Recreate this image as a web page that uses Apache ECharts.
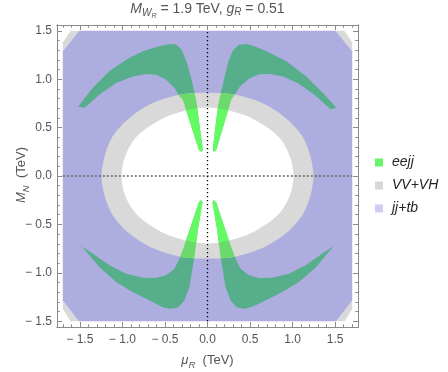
<!DOCTYPE html>
<html><head><meta charset="utf-8">
<script src="https://cdn.jsdelivr.net/npm/echarts@6/dist/echarts.min.js"></script>
<style>html,body{margin:0;padding:0;background:#fff}#c{width:448px;height:372px}</style>
</head><body><div id="c"></div>
<script>
// ---------- axes ----------
const xRange = [-1.768, 1.768];
const yRange = [-1.56, 1.56];
const majorTicks = [-1.5, -1, -0.5, 0, 0.5, 1, 1.5];
const tickLabels = ['\u2212 1.5', '\u2212 1.0', '\u2212 0.5', '0.0', '0.5', '1.0', '1.5'];
const minorTicksX = [-1.7,-1.6,-1.4,-1.3,-1.2,-1.1,-0.9,-0.8,-0.7,-0.6,-0.4,-0.3,-0.2,-0.1,0.1,0.2,0.3,0.4,0.6,0.7,0.8,0.9,1.1,1.2,1.3,1.4,1.6,1.7];
const minorTicksY = [-1.4,-1.3,-1.2,-1.1,-0.9,-0.8,-0.7,-0.6,-0.4,-0.3,-0.2,-0.1,0.1,0.2,0.3,0.4,0.6,0.7,0.8,0.9,1.1,1.2,1.3,1.4];
const domainX = [-1.7, 1.7];
const domainY = [-1.5, 1.5];

// ---------- regions (boundaries) ----------
// jj+tb
const jjtbRegion = [[-1.7,1.289],[-1.506,1.5],[1.506,1.5],[1.7,1.289],[1.7,-1.285],[1.512,-1.5],[-1.512,-1.5],[-1.7,-1.285]];
// VV+VH corners
const vvCornerTL = [[-1.7,1.289],[-1.506,1.5],[-1.608,1.5],[-1.7,1.378]];
const vvCornerTR = [[1.7,1.289],[1.506,1.5],[1.608,1.5],[1.7,1.378]];
const vvCornerBR = [[1.7,-1.285],[1.512,-1.5],[1.61,-1.5],[1.7,-1.375]];
const vvCornerBL = [[-1.7,-1.285],[-1.512,-1.5],[-1.61,-1.5],[-1.7,-1.375]];
// VV+VH ring
const vvOuter = [[1.245,0],[1.21,0.2],[1.114,0.41],[0.918,0.6],[0.644,0.754],[0.33,0.84],[0,0.86],[-0.33,0.84],[-0.644,0.754],[-0.918,0.6],[-1.114,0.41],[-1.21,0.2],[-1.245,0],[-1.21,-0.2],[-1.114,-0.405],[-0.918,-0.595],[-0.644,-0.745],[-0.33,-0.833],[0,-0.853],[0.33,-0.833],[0.644,-0.745],[0.918,-0.595],[1.114,-0.405],[1.21,-0.2]];
const vvInner = [[1.01,0],[0.99,0.14],[0.93,0.28],[0.84,0.4],[0.72,0.49],[0.49,0.61],[0.22,0.685],[0,0.708],[-0.22,0.685],[-0.49,0.61],[-0.72,0.49],[-0.84,0.4],[-0.93,0.28],[-0.99,0.14],[-1.01,0],[-0.99,-0.14],[-0.93,-0.275],[-0.84,-0.39],[-0.72,-0.48],[-0.49,-0.6],[-0.22,-0.675],[0,-0.698],[0.22,-0.675],[0.49,-0.6],[0.72,-0.48],[0.84,-0.39],[0.93,-0.275],[0.99,-0.14]];
// eejj
const eejjUL = [[-1.518,0.718],[-1.349,0.909],[-1.153,1.081],[-0.956,1.202],[-0.761,1.288],[-0.565,1.34],[-0.447,1.365],[-0.368,1.358],[-0.305,1.306],[-0.248,1.185],[-0.192,1.013],[-0.155,0.874],[-0.133,0.788],[-0.094,0.529],[-0.055,0.27],[-0.071,0.249],[-0.102,0.27],[-0.291,0.788],[-0.329,0.822],[-0.388,0.909],[-0.486,0.995],[-0.604,1.047],[-0.721,1.054],[-0.879,1.029],[-1.074,0.961],[-1.271,0.84],[-1.447,0.702]];
const eejjUR = [[1.514,0.705],[1.356,0.857],[1.161,1.029],[0.926,1.185],[0.691,1.288],[0.565,1.335],[0.455,1.365],[0.37,1.355],[0.3,1.3],[0.245,1.185],[0.195,1.0],[0.16,0.87],[0.128,0.75],[0.094,0.52],[0.062,0.27],[0.078,0.249],[0.104,0.27],[0.279,0.788],[0.318,0.84],[0.376,0.92],[0.494,1.01],[0.612,1.05],[0.729,1.055],[0.879,1.03],[1.07,0.955],[1.27,0.83],[1.445,0.69]];
const eejjLL = [[-1.518,-0.705],[-1.467,-0.738],[-1.271,-0.94],[-1.074,-1.096],[-0.879,-1.199],[-0.682,-1.285],[-0.526,-1.355],[-0.447,-1.371],[-0.349,-1.361],[-0.271,-1.285],[-0.212,-1.148],[-0.18,-0.974],[-0.153,-0.837],[-0.133,-0.698],[-0.114,-0.56],[-0.058,-0.27],[-0.074,-0.249],[-0.102,-0.27],[-0.212,-0.56],[-0.271,-0.715],[-0.329,-0.853],[-0.388,-0.957],[-0.486,-1.026],[-0.604,-1.054],[-0.761,-1.05],[-0.956,-1.009],[-1.153,-0.923],[-1.349,-0.801]];
const eejjLR = [[1.518,-0.705],[1.467,-0.738],[1.271,-0.945],[1.074,-1.096],[0.879,-1.199],[0.682,-1.285],[0.526,-1.352],[0.44,-1.371],[0.349,-1.36],[0.271,-1.285],[0.212,-1.148],[0.18,-0.974],[0.153,-0.837],[0.133,-0.698],[0.114,-0.56],[0.058,-0.27],[0.074,-0.249],[0.102,-0.27],[0.212,-0.56],[0.271,-0.715],[0.329,-0.853],[0.388,-0.957],[0.486,-1.026],[0.604,-1.054],[0.761,-1.05],[0.956,-1.009],[1.153,-0.923],[1.349,-0.801]];

// ---------- style ----------
const FF = "'Liberation Sans', Arial, sans-serif";
const FRAME = '#8a8a8a';
const LABEL = '#555555';
const C_JJTB = '#ADADE0';
const C_VV = '#D9D9D9';
const C_EE_PURPLE = '#56AE8B';
const C_EE_GRAY = '#6CD96C';
const C_EE_WHITE = '#64FA64';

function polySeries(name, pts, color, z, clipPts, smooth, clipSmooth) {
  return {
    type: 'custom', name: name, z: z, silent: true, animation: false,
    xAxisIndex: 0, yAxisIndex: 0,
    data: pts, encode: {x: 0, y: 1},
    itemStyle: {color: color},
    renderItem: function (params, api) {
      if (params.dataIndex !== 0) return null;
      const el = {
        type: 'polygon',
        shape: {points: pts.map(function (p) { return api.coord(p); }), smooth: smooth || 0},
        style: {fill: color, stroke: null}
      };
      if (clipPts) {
        el.clipPath = {type: 'polygon', shape: {points: clipPts.map(function (p) { return api.coord(p); }), smooth: clipSmooth || 0}};
      }
      return el;
    }
  };
}

function axisDef(dim, pos, ticks, len, showLabel) {
  const range = dim === 'x' ? xRange : yRange;
  return {
    type: 'value', min: range[0], max: range[1], position: pos, z: 30,
    axisLine: {show: true, onZero: false, lineStyle: {color: FRAME, width: 1}},
    axisTick: {show: true, inside: true, length: len, customValues: ticks, lineStyle: {color: FRAME, width: 1}},
    axisLabel: {
      show: showLabel, customValues: ticks, margin: dim === 'x' ? 7 : 5,
      color: LABEL, fontSize: 12, fontFamily: FF,
      formatter: function (v) {
        const i = majorTicks.findIndex(function (t) { return Math.abs(t - v) < 1e-6; });
        return i >= 0 ? tickLabels[i] : '';
      }
    },
    splitLine: {show: false}
  };
}

function tok(size, italic, padTop) {
  return {fontSize: size, fontStyle: italic ? 'italic' : 'normal', verticalAlign: 'top',
          padding: [padTop || 0, 0, 0, 0], fill: LABEL, fontFamily: FF};
}

const series = [
  polySeries('VV+VH', vvCornerTL, C_VV, 2),
  polySeries('VV+VH', vvCornerTR, C_VV, 2),
  polySeries('VV+VH', vvCornerBR, C_VV, 2),
  polySeries('VV+VH', vvCornerBL, C_VV, 2),
  polySeries('jj+tb', jjtbRegion, C_JJTB, 3),
  polySeries('eejj', eejjUL, C_EE_PURPLE, 4),
  polySeries('eejj', eejjUR, C_EE_PURPLE, 4),
  polySeries('eejj', eejjLL, C_EE_PURPLE, 4),
  polySeries('eejj', eejjLR, C_EE_PURPLE, 4),
  polySeries('VV+VH', vvOuter, C_VV, 5, null, 0.3),
  polySeries('VV+VH', vvInner, '#ffffff', 6, null, 0.3),
  polySeries('eejj', eejjUL, C_EE_GRAY, 7, vvOuter, 0, 0.3),
  polySeries('eejj', eejjUR, C_EE_GRAY, 7, vvOuter, 0, 0.3),
  polySeries('eejj', eejjLL, C_EE_GRAY, 7, vvOuter, 0, 0.3),
  polySeries('eejj', eejjLR, C_EE_GRAY, 7, vvOuter, 0, 0.3),
  polySeries('eejj', eejjUL, C_EE_WHITE, 8, vvInner, 0, 0.3),
  polySeries('eejj', eejjUR, C_EE_WHITE, 8, vvInner, 0, 0.3),
  polySeries('eejj', eejjLL, C_EE_WHITE, 8, vvInner, 0, 0.3),
  polySeries('eejj', eejjLR, C_EE_WHITE, 8, vvInner, 0, 0.3),
  {
    type: 'line', z: 20, silent: true, animation: false, symbol: 'none',
    data: [[domainX[0], 0], [domainX[1], 0]],
    lineStyle: {color: '#666', width: 1.5, type: [2, 2]}
  },
  {
    type: 'line', z: 21, silent: true, animation: false, symbol: 'none',
    data: [[0, domainY[0]], [0, domainY[1]]],
    lineStyle: {color: '#000', width: 1.3, type: [1.3, 2.7]}
  }
];

const chart = echarts.init(document.getElementById('c'), null, {renderer: 'canvas'});
chart.setOption({
  backgroundColor: '#fff',
  animation: false,
  grid: {left: 57, right: 90, top: 25, bottom: 45, containLabel: false},
  xAxis: [
    axisDef('x', 'bottom', majorTicks, 5, true),
    axisDef('x', 'bottom', minorTicksX, 2.7, false),
    axisDef('x', 'top', majorTicks, 5, false),
    axisDef('x', 'top', minorTicksX, 2.7, false)
  ],
  yAxis: [
    axisDef('y', 'left', majorTicks, 5, true),
    axisDef('y', 'left', minorTicksY, 2.7, false),
    axisDef('y', 'right', majorTicks, 5, false),
    axisDef('y', 'right', minorTicksY, 2.7, false)
  ],
  legend: {
    orient: 'vertical', left: 375, top: 155, padding: 0,
    itemWidth: 8, itemHeight: 8, itemGap: 8, icon: 'rect', selectedMode: false,
    textStyle: {fontFamily: FF, fontStyle: 'italic', fontSize: 14, lineHeight: 15, color: '#222', padding: [0, 0, 0, 4]},
    data: [
      {name: 'eejj', itemStyle: {color: '#66F566'}},
      {name: 'VV+VH', itemStyle: {color: '#D7D7D7'}},
      {name: 'jj+tb', itemStyle: {color: '#CCCCF6'}}
    ]
  },
  graphic: [
    {
      type: 'text', x: 207.5, y: 2, z: 50,
      style: {
        text: '{it|M}{s1|W}{s2|R}{n| = 1.9 TeV, }{it|g}{s3|R}{n| = 0.51}',
        align: 'center', verticalAlign: 'top', fill: LABEL, fontFamily: FF,
        rich: {
          it: tok(14, true, 0),
          n: tok(14, false, 0),
          s1: tok(10, true, 6.5),
          s2: tok(7, true, 11),
          s3: tok(10, true, 5.5)
        }
      }
    },
    {
      type: 'text', x: 207.5, y: 354, z: 50,
      style: {
        text: '{it|\u03bc}{s|R}{n|  (TeV)}',
        align: 'center', verticalAlign: 'top', fill: LABEL, fontFamily: FF,
        rich: {
          it: tok(13, true, 0),
          n: tok(13, false, 0),
          s: tok(9.5, true, 6)
        }
      }
    },
    {
      type: 'text', x: 15, y: 175, z: 50, rotation: Math.PI / 2,
      style: {
        text: '{it|M}{s|N}{n|  (TeV)}',
        align: 'center', verticalAlign: 'top', fill: LABEL, fontFamily: FF,
        rich: {
          it: tok(13, true, 0),
          n: tok(13, false, 0),
          s: tok(9.5, true, 6)
        }
      }
    }
  ],
  series: series
});
</script>
</body></html>
